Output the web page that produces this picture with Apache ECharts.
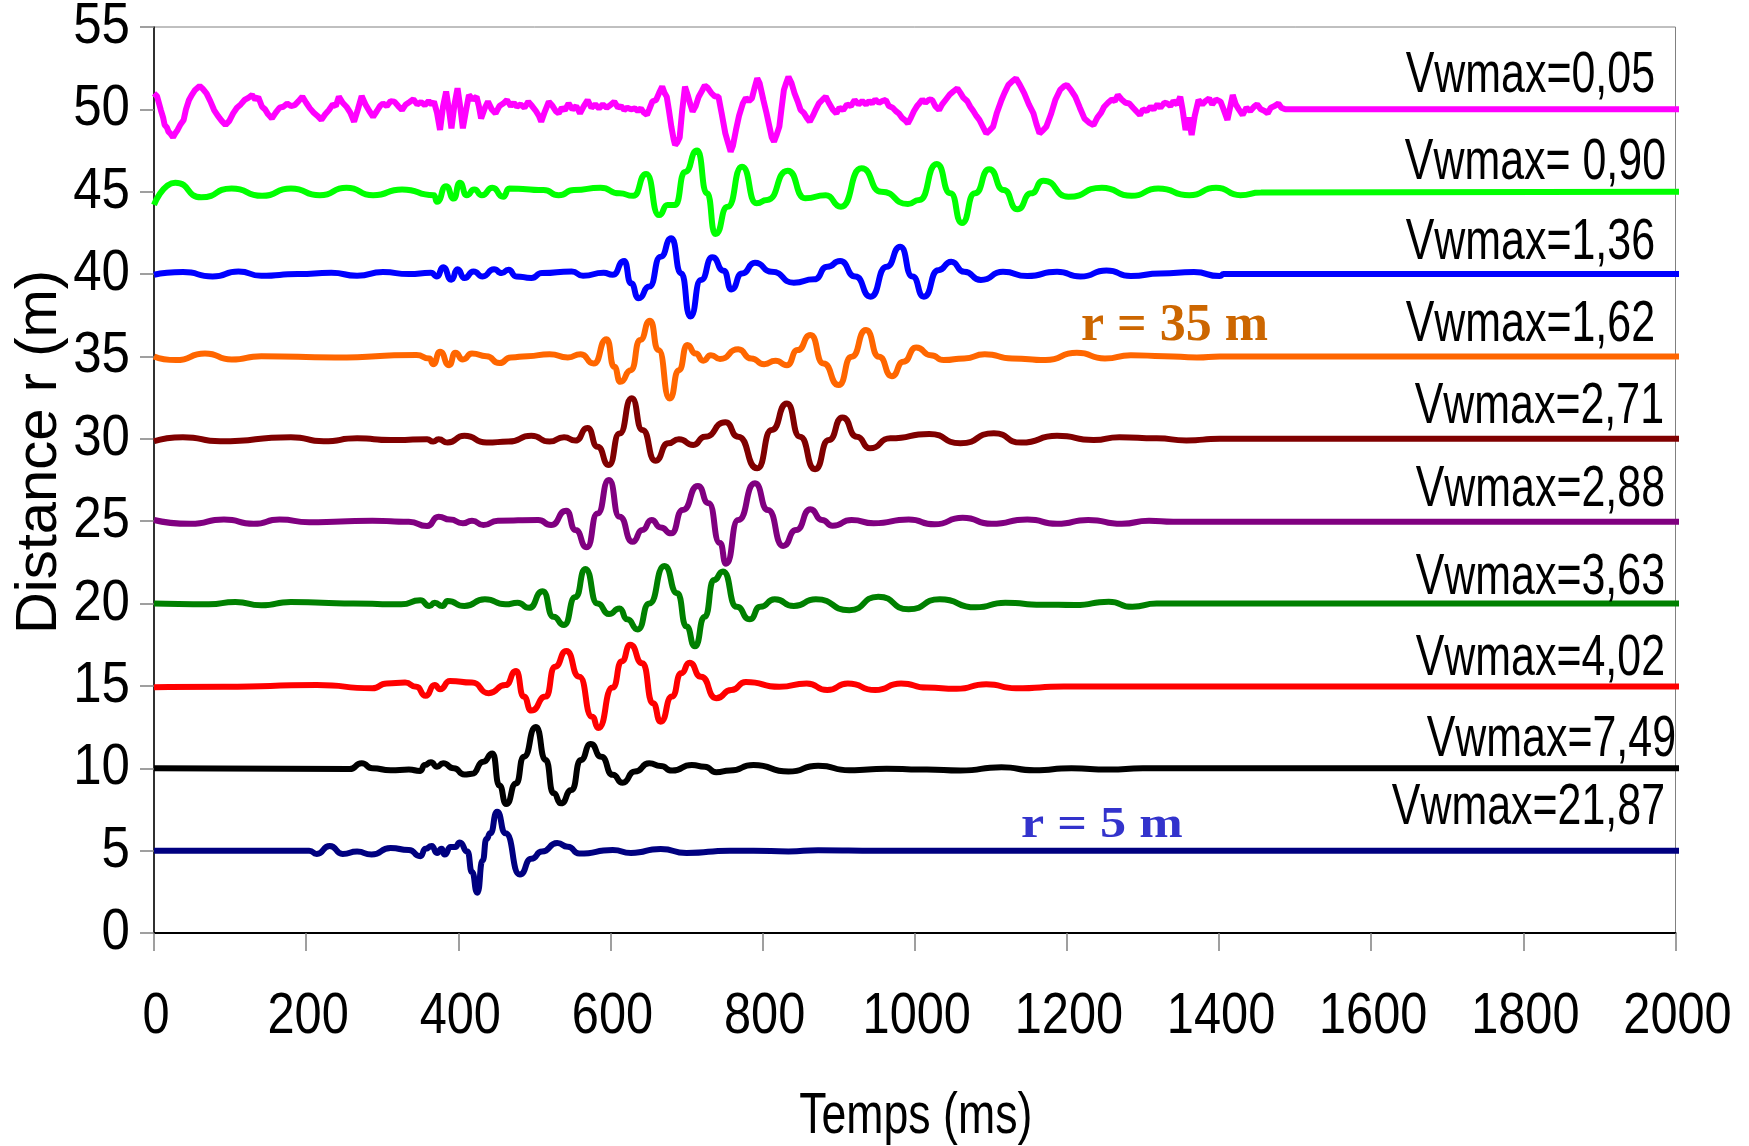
<!DOCTYPE html>
<html>
<head>
<meta charset="utf-8">
<title>Vitesses particulaires en fonction de la distance</title>
<script src="https://cdn.jsdelivr.net/npm/echarts@6/dist/echarts.min.js"></script>
<style>
  html, body { margin: 0; padding: 0; background: #fff; }
  #chart { width: 1749px; height: 1146px; }
</style>
</head>
<body>
<div id="chart"></div>
<script>
// Axis ranges (ms on x, distance r in metres on y)
const timeAxis = { min: 0, max: 2000, step: 200 };
const distAxis = { min: 0, max: 55, step: 5 };
const xTickLabels = ['0', '200', '400', '600', '800', '1000', '1200', '1400', '1600', '1800', '2000'];
const yTickLabels = ['0', '5', '10', '15', '20', '25', '30', '35', '40', '45', '50', '55'];

// Velocity traces, each plotted around its distance r: [time ms, r + scaled velocity]
const trace5m = [[0,5.0],[204,5.0],[214,4.8],[231,5.28],[248,4.8],[267,4.94],[286,4.76],[311,5.16],[335,5.04],[350,4.66],[357,5.12],[365,5.28],[372,4.86],[378,5.12],[382,4.76],[390,5.22],[396,5.22],[402,5.5],[412,4.94],[418,3.7],[425,2.45],[432,4.4],[437,5.7],[442,6.05],[451,7.36],[462,6.05],[481,3.55],[496,4.5],[510,4.94],[530,5.46],[544,5.24],[559,4.82],[603,5.04],[627,4.86],[666,5.1],[700,4.86],[757,5.0],[788,5.0],[834,4.95],[873,5.03],[953,5.0],[2010,5.0]];

const trace10m = [[0,10.0],[257,9.95],[273,10.3],[287,10.0],[311,9.88],[335,9.92],[350,9.84],[356,10.2],[364,10.36],[372,10.1],[380,10.3],[394,10.0],[408,9.62],[418,9.66],[433,10.4],[445,10.9],[454,8.95],[463,7.83],[476,9.08],[486,10.7],[502,12.5],[515,10.5],[525,8.5],[535,7.87],[549,8.68],[561,10.5],[574,11.47],[588,10.7],[603,9.6],[616,9.12],[632,9.8],[651,10.3],[666,10.14],[681,9.86],[707,10.2],[724,10.1],[739,9.76],[757,9.86],[788,10.2],[834,9.8],[873,10.16],[914,9.88],[963,9.97],[1016,9.92],[1060,9.86],[1114,10.06],[1157,9.88],[1206,10.0],[1255,9.92],[1300,10.0],[2010,10.0]];

const trace15m = [[0,14.92],[92,14.95],[214,15.05],[287,14.86],[306,15.15],[330,15.2],[345,14.95],[357,14.4],[369,15.05],[376,14.8],[389,15.3],[418,15.2],[440,14.56],[462,15.05],[476,15.9],[486,14.35],[496,13.5],[515,14.35],[527,16.17],[542,17.12],[559,15.56],[576,13.13],[584,12.45],[603,14.9],[615,16.5],[626,17.5],[642,16.37],[656,13.94],[666,12.83],[681,14.35],[693,15.77],[704,16.4],[719,15.56],[739,14.25],[759,14.75],[778,15.24],[822,14.95],[858,15.15],[885,14.75],[912,15.15],[948,14.75],[982,15.15],[1016,14.9],[1055,14.82],[1094,15.1],[1133,14.86],[1196,14.96],[2010,14.96]];

const trace20m = [[0,20.0],[72,19.95],[107,20.1],[141,19.9],[180,20.1],[262,20.0],[325,19.95],[350,20.2],[362,19.85],[369,20.05],[379,19.85],[386,20.15],[408,19.85],[435,20.26],[462,19.95],[478,20.05],[493,19.74],[511,20.75],[525,19.2],[539,18.7],[554,20.4],[567,22.1],[583,20.0],[598,19.36],[612,19.7],[622,19.04],[636,18.43],[651,20.0],[671,22.28],[688,20.62],[700,18.6],[711,17.4],[724,19.2],[736,21.43],[748,21.95],[766,19.8],[783,19.04],[797,19.8],[816,20.26],[841,19.85],[870,20.26],[914,19.6],[952,20.42],[992,19.65],[1033,20.26],[1080,19.77],[1119,20.05],[1167,19.93],[1211,19.91],[1255,20.11],[1286,19.8],[1318,20.0],[1335,20.0],[2010,20.0]];

const trace25m = [[0,25.07],[48,24.84],[92,25.1],[131,24.84],[165,25.1],[204,24.93],[287,25.03],[335,24.97],[359,24.7],[374,25.27],[389,25.1],[406,24.87],[418,25.03],[433,24.77],[452,25.03],[505,25.07],[522,24.77],[542,25.64],[554,24.46],[569,23.41],[583,25.47],[598,27.5],[612,25.27],[629,23.75],[642,24.46],[654,25.07],[666,24.62],[680,24.26],[695,25.68],[715,27.14],[729,26.09],[744,23.67],[752,22.42],[768,25.07],[790,27.3],[807,25.68],[827,23.5],[844,24.46],[863,25.72],[878,25.07],[892,24.73],[917,25.07],[946,24.87],[992,25.1],[1026,24.81],[1063,25.21],[1101,24.84],[1148,25.1],[1187,24.84],[1228,25.07],[1272,24.84],[1308,25.03],[1340,24.97],[2010,24.97]];

const trace30m = [[0,29.85],[38,30.1],[87,29.85],[180,30.1],[223,29.85],[267,30.03],[311,29.93],[359,29.97],[367,29.83],[374,29.97],[386,29.77],[408,30.18],[437,29.77],[466,29.83],[496,30.18],[520,29.83],[539,30.1],[554,29.9],[570,30.65],[583,29.52],[598,28.41],[612,30.33],[628,32.46],[642,30.54],[659,28.67],[676,29.73],[690,29.97],[709,29.63],[724,30.13],[751,31.0],[768,30.13],[793,28.21],[812,30.54],[832,32.15],[849,30.13],[869,28.15],[887,29.93],[905,31.3],[924,30.13],[941,29.42],[968,30.03],[1019,30.3],[1060,29.73],[1104,30.34],[1140,29.77],[1187,30.18],[1235,29.93],[1269,30.1],[1318,30.03],[1357,29.9],[1401,30.0],[2010,30.0]];

const trace35m = [[0,35.0],[29,34.78],[67,35.18],[102,34.82],[141,35.02],[238,34.94],[345,35.09],[362,34.88],[367,34.53],[376,35.28],[388,34.47],[396,35.22],[406,34.82],[418,35.18],[437,35.02],[454,34.6],[469,34.94],[491,35.02],[520,35.14],[544,34.94],[561,35.14],[578,34.57],[595,36.05],[605,34.37],[613,33.46],[627,34.17],[639,36.0],[652,37.17],[663,35.39],[678,32.45],[690,34.17],[701,35.69],[712,35.18],[722,34.74],[732,35.08],[744,34.85],[768,35.43],[785,34.88],[802,34.53],[817,34.74],[832,34.47],[846,35.39],[863,36.3],[880,34.57],[900,33.26],[917,34.98],[936,36.6],[953,34.98],[970,33.8],[985,34.68],[1002,35.55],[1021,35.08],[1038,34.78],[1065,34.88],[1092,35.14],[1128,34.88],[1172,34.78],[1213,35.22],[1250,34.88],[1284,35.08],[1328,35.02],[1371,34.94],[1401,35.0],[2010,35.0]];

const trace40m = [[0,39.96],[38,40.12],[77,39.86],[111,40.16],[141,39.9],[189,40.0],[233,40.08],[267,39.9],[301,40.12],[335,40.0],[364,40.08],[372,39.86],[380,40.41],[391,39.66],[399,40.3],[408,39.76],[420,40.16],[432,39.86],[447,40.3],[457,40.06],[466,40.26],[476,39.86],[496,39.76],[510,40.06],[549,40.16],[564,39.9],[591,40.08],[603,39.96],[618,40.8],[627,39.44],[637,38.53],[651,39.24],[666,41.06],[680,42.17],[693,40.04],[705,37.42],[719,39.64],[734,41.02],[749,40.2],[759,39.07],[773,40.04],[790,40.69],[812,40.14],[841,39.48],[868,39.68],[885,40.45],[902,40.79],[922,39.85],[942,38.63],[963,40.45],[981,41.66],[997,39.85],[1012,38.63],[1031,40.24],[1048,40.75],[1065,40.14],[1087,39.64],[1116,40.14],[1148,39.88],[1187,40.14],[1218,39.85],[1252,40.22],[1284,39.88],[1323,40.04],[1367,40.12],[1401,39.88],[1406,40.0],[2010,40.0]];

const trace45m = [[0,44.2],[28,45.55],[62,44.66],[102,45.2],[142,44.75],[180,45.2],[218,44.79],[253,45.24],[288,44.79],[326,45.14],[368,44.79],[372,44.39],[384,45.34],[394,44.59],[402,45.55],[411,44.79],[421,45.14],[431,44.79],[445,45.24],[459,44.69],[467,45.2],[512,45.1],[532,44.79],[552,45.1],[587,45.24],[612,44.9],[630,44.75],[647,46.08],[664,43.58],[675,44.2],[685,44.2],[698,46.2],[714,47.5],[727,44.9],[738,42.43],[754,44.09],[773,46.52],[792,44.3],[806,44.5],[833,46.28],[856,44.6],[883,44.79],[903,44.09],[930,46.42],[956,45.0],[991,44.26],[1006,44.5],[1029,46.68],[1047,44.9],[1062,43.1],[1079,44.9],[1098,46.36],[1117,45.1],[1135,43.93],[1153,44.9],[1169,45.67],[1202,44.7],[1246,45.24],[1285,44.75],[1320,45.2],[1361,44.79],[1396,45.24],[1428,44.79],[1455,44.95],[2010,45.0]];

const trace50m = [[0,50.97],[4,50.8],[9,49.96],[12,49.5],[14,49.05],[17,48.9],[19,48.65],[22,48.5],[25,48.3],[28,48.55],[31,48.75],[35,49.1],[39,49.36],[42,50.0],[46,50.57],[50,50.9],[54,51.18],[57,51.3],[60,51.42],[64,51.25],[69,50.97],[74,50.5],[79,49.96],[84,49.6],[89,49.3],[94,49.05],[99,49.3],[104,49.76],[109,50.1],[114,50.3],[119,50.57],[124,50.7],[129,50.87],[133,50.6],[137,50.75],[142,50.16],[146,50.0],[150,49.7],[155,49.45],[160,49.8],[165,50.1],[170,50.16],[175,50.35],[180,50.2],[185,50.26],[190,50.5],[195,50.77],[200,50.4],[205,50.06],[210,49.8],[215,49.6],[220,49.36],[225,49.7],[230,49.96],[235,50.3],[239,50.2],[243,50.77],[248,50.4],[253,50.16],[258,49.8],[263,49.25],[268,50.0],[273,50.81],[278,50.3],[283,49.9],[288,49.55],[293,49.9],[297,50.2],[301,50.36],[306,50.2],[311,50.5],[316,50.47],[321,50.2],[326,49.96],[331,50.3],[336,50.45],[341,50.61],[346,50.3],[351,50.45],[356,50.26],[361,50.5],[365,50.3],[368,50.47],[372,49.8],[376,48.75],[380,50.2],[384,51.08],[388,49.9],[391,48.85],[395,50.3],[399,51.28],[403,50.0],[406,48.85],[410,49.9],[414,50.87],[419,50.6],[424,50.77],[427,50.2],[430,49.45],[435,50.1],[439,50.47],[444,50.0],[449,49.76],[454,50.2],[459,50.35],[464,50.57],[469,50.2],[473,50.4],[477,50.16],[482,50.3],[487,50.1],[492,50.47],[497,50.2],[502,49.9],[506,49.6],[509,49.25],[514,49.9],[519,50.47],[524,50.2],[528,49.9],[532,49.76],[536,50.1],[540,49.95],[545,50.36],[550,50.0],[555,50.2],[560,49.76],[565,50.2],[570,50.57],[575,50.1],[580,50.3],[585,50.06],[590,50.3],[595,50.1],[600,50.26],[605,50.47],[610,50.1],[614,50.2],[618,49.96],[622,50.1],[627,50.0],[632,50.06],[636,49.9],[640,50.06],[644,49.8],[648,49.66],[651,50.0],[655,50.47],[660,50.57],[664,51.0],[668,51.38],[671,51.0],[674,50.77],[677,49.9],[680,48.95],[683,48.2],[685,47.83],[688,48.0],[691,48.3],[694,49.8],[698,51.38],[702,50.8],[705,50.3],[708,49.86],[712,50.2],[716,50.77],[720,51.1],[724,51.45],[728,51.3],[733,50.97],[737,50.8],[742,50.77],[746,49.8],[751,48.54],[755,47.9],[758,47.43],[761,47.8],[765,48.75],[769,49.6],[774,50.36],[778,50.7],[782,50.5],[786,50.67],[790,51.4],[793,51.88],[796,51.6],[801,50.57],[805,49.8],[809,48.95],[812,48.3],[815,48.04],[818,48.4],[822,48.95],[825,50.1],[828,51.18],[831,51.6],[834,51.98],[838,51.6],[842,50.97],[846,50.5],[850,49.96],[854,49.8],[858,49.5],[862,49.25],[866,49.6],[870,50.0],[874,50.36],[879,50.6],[883,50.77],[887,50.4],[892,50.0],[897,49.76],[901,50.1],[906,49.96],[911,50.3],[916,50.2],[921,50.57],[926,50.3],[931,50.5],[936,50.3],[940,50.5],[944,50.36],[948,50.6],[953,50.4],[957,50.5],[962,50.57],[966,50.2],[971,50.1],[975,49.9],[979,49.76],[983,49.5],[987,49.35],[991,49.15],[995,49.5],[999,49.9],[1003,50.2],[1006,50.36],[1010,50.6],[1014,50.4],[1019,50.6],[1023,50.57],[1027,50.2],[1032,49.96],[1036,50.3],[1041,50.6],[1046,50.9],[1051,51.1],[1056,51.28],[1060,51.0],[1064,50.7],[1069,50.5],[1073,50.16],[1077,49.9],[1081,49.6],[1085,49.36],[1089,49.0],[1094,48.54],[1098,48.7],[1103,48.95],[1108,49.8],[1114,50.57],[1118,51.0],[1123,51.48],[1128,51.7],[1133,51.88],[1138,51.5],[1144,50.97],[1150,50.3],[1156,49.76],[1160,49.1],[1164,48.54],[1168,48.7],[1173,48.95],[1179,49.7],[1185,50.6],[1191,51.18],[1196,51.4],[1200,51.48],[1205,51.2],[1211,50.77],[1217,50.1],[1223,49.45],[1229,49.2],[1235,49.05],[1240,49.5],[1245,49.8],[1249,50.16],[1254,50.4],[1259,50.6],[1263,50.5],[1267,50.87],[1272,50.6],[1277,50.4],[1282,50.36],[1287,50.1],[1291,49.9],[1296,49.66],[1300,50.0],[1305,49.9],[1310,50.16],[1314,50.0],[1319,50.3],[1323,50.1],[1328,50.4],[1332,50.36],[1336,50.2],[1340,50.5],[1345,50.3],[1349,50.77],[1352,50.0],[1356,48.75],[1360,49.5],[1364,48.44],[1368,49.6],[1373,50.57],[1378,50.3],[1382,50.5],[1387,50.67],[1391,50.3],[1396,50.6],[1402,50.47],[1406,50.0],[1411,49.36],[1414,50.0],[1418,50.87],[1422,50.3],[1426,50.0],[1431,49.66],[1436,50.1],[1441,49.9],[1446,50.16],[1450,50.3],[1455,50.0],[1460,49.9],[1464,49.76],[1468,50.1],[1473,50.2],[1478,50.36],[1482,50.1],[1487,50.0],[2010,50.0]];

// Peak particle velocity written next to each trace, top trace first
const vwmaxLabels = ['Vwmax=0,05', 'Vwmax= 0,90', 'Vwmax=1,36', 'Vwmax=1,62', 'Vwmax=2,71',
                     'Vwmax=2,88', 'Vwmax=3,63', 'Vwmax=4,02', 'Vwmax=7,49', 'Vwmax=21,87'];
const distanceNotes = ['r = 35 m', 'r = 5 m'];
const axisTitles = { x: 'Temps (ms)', y: 'Distance r (m)' };

// ---- drawing ----
const traces = [
  { data: trace50m, color: '#FF00FF', smooth: false },
  { data: trace45m, color: '#00FF00', smooth: 0.6 },
  { data: trace40m, color: '#0000FF', smooth: 0.6 },
  { data: trace35m, color: '#FF6600', smooth: 0.6 },
  { data: trace30m, color: '#800000', smooth: 0.6 },
  { data: trace25m, color: '#800080', smooth: 0.6 },
  { data: trace20m, color: '#008000', smooth: 0.6 },
  { data: trace15m, color: '#FF0000', smooth: 0.6 },
  { data: trace10m, color: '#000000', smooth: 0.6 },
  { data: trace5m,  color: '#000080', smooth: 0.6 }
];

const sansFont = '"Liberation Sans", Arial, sans-serif';
const serifBold = 'bold {size}px "Liberation Serif", "Times New Roman", serif';

// right edge and vertical centre of each Vwmax label, in pixels
const labelAnchors = [[1655, 76], [1666, 163], [1655, 243], [1655, 325], [1664, 407],
                      [1665, 490], [1665, 578], [1665, 659], [1676, 740], [1665, 808]];

const chart = echarts.init(document.getElementById('chart'), null, { renderer: 'canvas' });

chart.setOption({
  animation: false,
  backgroundColor: '#ffffff',
  grid: {
    left: 154, right: 73.5, top: 27, bottom: 213,
    show: true, borderColor: '#808080', borderWidth: 1,
    containLabel: false, outerBoundsMode: 'none'
  },
  xAxis: {
    type: 'value', min: timeAxis.min, max: timeAxis.max, interval: timeAxis.step,
    axisLine: { show: true, onZero: false, lineStyle: { color: '#000', width: 2 } },
    axisTick: { show: true, length: 18, lineStyle: { color: '#808080', width: 1.5 } },
    axisLabel: { show: false },
    splitLine: { show: false }
  },
  yAxis: {
    type: 'value', min: distAxis.min, max: distAxis.max, interval: distAxis.step,
    name: axisTitles.y, nameLocation: 'middle', nameGap: 85,
    nameTextStyle: { fontFamily: sansFont, fontSize: 58, color: '#000', padding: [0, 0, 0, 56] },
    axisLine: { show: true, onZero: false, lineStyle: { color: '#000', width: 1.5 } },
    axisTick: { show: true, length: 14, lineStyle: { color: '#808080', width: 1.5 } },
    axisLabel: { show: false },
    splitLine: { show: false }
  },
  series: traces.map(t => ({
    type: 'line',
    data: t.data,
    smooth: t.smooth,
    smoothMonotone: 'x',
    showSymbol: false,
    clip: false,
    lineStyle: { color: t.color, width: 6 },
    itemStyle: { color: t.color },
    emphasis: { disabled: true }
  }))
});

// Tick labels and titles are set in a condensed face: the regular sans,
// squeezed horizontally, positioned from the axis scales.
const graphics = [];
const axisBottom = chart.convertToPixel({ yAxisIndex: 0 }, distAxis.min);
const axisLeft = chart.convertToPixel({ xAxisIndex: 0 }, timeAxis.min);
const axisRight = chart.convertToPixel({ xAxisIndex: 0 }, timeAxis.max);

xTickLabels.forEach(lbl => {
  graphics.push({
    type: 'text', x: chart.convertToPixel({ xAxisIndex: 0 }, Number(lbl)) + 2,
    y: axisBottom + 84, scaleX: 0.84, silent: true,
    style: { text: lbl, x: 0, y: 0, align: 'center', verticalAlign: 'middle',
             font: '58px ' + sansFont, fill: '#000' }
  });
});
yTickLabels.forEach(lbl => {
  graphics.push({
    type: 'text', x: axisLeft - 24, y: chart.convertToPixel({ yAxisIndex: 0 }, Number(lbl)),
    scaleX: 0.88, silent: true,
    style: { text: lbl, x: 0, y: 0, align: 'right', verticalAlign: 'middle',
             font: '58px ' + sansFont, fill: '#000' }
  });
});
graphics.push({
  type: 'text', x: (axisLeft + axisRight) / 2 + 1, y: axisBottom + 184, scaleX: 0.77, silent: true,
  style: { text: axisTitles.x, x: 0, y: 0, align: 'center', verticalAlign: 'middle',
           font: '58px ' + sansFont, fill: '#000' }
});

vwmaxLabels.forEach((txt, i) => {
  graphics.push({
    type: 'text', x: labelAnchors[i][0], y: labelAnchors[i][1], scaleX: 0.74, z: 10, silent: true,
    style: { text: txt, x: 0, y: 0, align: 'right', verticalAlign: 'middle',
             font: '58px ' + sansFont, fill: '#000' }
  });
});
graphics.push({
  type: 'text', x: 1081, y: 327, z: 10, silent: true,
  style: { text: distanceNotes[0], x: 0, y: 0, align: 'left', verticalAlign: 'middle',
           font: serifBold.replace('{size}', 52), fill: '#CC6600' }
});
graphics.push({
  type: 'text', x: 1021, y: 825, z: 10, scaleX: 1.16, silent: true,
  style: { text: distanceNotes[1], x: 0, y: 0, align: 'left', verticalAlign: 'middle',
           font: serifBold.replace('{size}', 45), fill: '#3333CC' }
});

chart.setOption({ graphic: graphics });
</script>
</body>
</html>
